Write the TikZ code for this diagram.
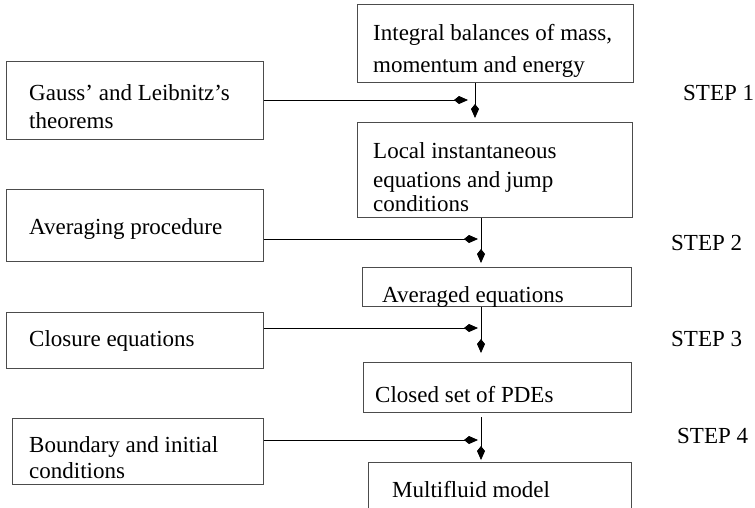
\documentclass[tikz,border=0pt]{standalone}
\usepackage{fontspec}
\setmainfont{Liberation Serif}
\usetikzlibrary{arrows.meta}
\begin{document}
\begin{tikzpicture}[x=1pt,y=-1pt,
  box/.style={draw=black!70,line width=0.9pt,rectangle,inner sep=0pt,anchor=north west},
  txt/.style={anchor=base west,inner sep=0pt,font=\fontsize{23}{27}\selectfont},
  arr/.style={draw=black,line width=0.8pt,-{Kite[length=14pt,width=8pt,inset=5pt]}}]
\clip (0,0) rectangle (755,507);
\fill[white] (0,0) rectangle (755,507);
% right column boxes
\node[box,minimum width=276pt,minimum height=78pt] (b1) at (357,4) {};
\node[box,minimum width=275pt,minimum height=95pt] (b2) at (357,122) {};
\node[box,minimum width=269pt,minimum height=39pt] (b3) at (362,267) {};
\node[box,minimum width=268pt,minimum height=50pt] (b4) at (363,362) {};
\node[box,minimum width=263pt,minimum height=50pt] (b5) at (368,462) {};
% left column boxes
\node[box,minimum width=257pt,minimum height=78pt] (gauss) at (6,61) {};
\node[box,minimum width=257pt,minimum height=72pt] (avgp) at (6,189) {};
\node[box,minimum width=257pt,minimum height=56pt] (clos) at (6,312) {};
\node[box,minimum width=251pt,minimum height=66pt] (bound) at (12,418) {};
% texts
\node[txt] (t1a) at (373,40) {Integral balances of mass,};
\node[txt] (t1b) at (373,72) {momentum and energy};
\node[txt] (t2a) at (373,158) {Local instantaneous};
\node[txt] (t2b) at (373,187) {equations and jump};
\node[txt] (t2c) at (373,211) {conditions};
\node[txt] (t3) at (382,302) {Averaged equations};
\node[txt] (t4) at (375,402) {Closed set of PDEs};
\node[txt] (t5) at (392,497) {Multifluid model};
\node[txt] (g1) at (29,100) {Gauss’ and Leibnitz’s};
\node[txt] (g2) at (29,128) {theorems};
\node[txt] (ap) at (29,234) {Averaging procedure};
\node[txt] (ce) at (29,346) {Closure equations};
\node[txt] (bc1) at (29,452) {Boundary and initial};
\node[txt] (bc2) at (29,478) {conditions};
\node[txt] (s1) at (683,100) {STEP 1};
\node[txt] (s2) at (671,250) {STEP 2};
\node[txt] (s3) at (671,346) {STEP 3};
\node[txt] (s4) at (677,443) {STEP 4};
% connector ends
\coordinate (h1) at (468,100);
\coordinate (h2) at (478,239);
\coordinate (h3) at (478,328);
\coordinate (h4) at (478,440);
\coordinate (v1) at (475,118);
\coordinate (v2) at (481,263);
\coordinate (v3) at (481,353);
\coordinate (v4) at (481,460);
\coordinate (u4) at (481,417);
% connectors
\draw[arr] (gauss.east |- h1) -- (h1);
\draw[arr] (avgp.east |- h2) -- (h2);
\draw[arr] (clos.east |- h3) -- (h3);
\draw[arr] (bound.east |- h4) -- (h4);
\draw[arr] (b1.south -| v1) -- (v1);
\draw[arr] (b2.south -| v2) -- (v2);
\draw[arr] (b3.south -| v3) -- (v3);
\draw[arr] (u4) -- (v4);
\end{tikzpicture}
\end{document}
